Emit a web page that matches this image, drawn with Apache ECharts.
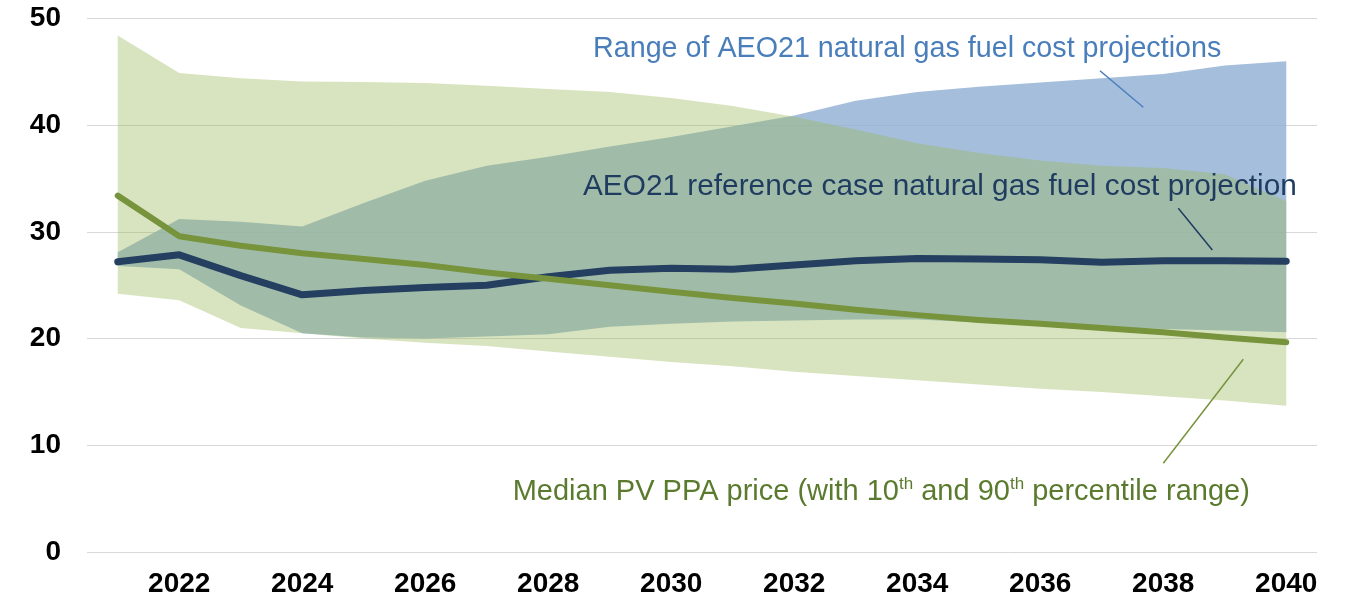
<!DOCTYPE html>
<html lang="en">

<head>
    <meta charset="UTF-8">
    <title>PV PPA vs gas fuel cost</title>
    <script src="https://cdn.jsdelivr.net/npm/echarts@6/dist/echarts.min.js"></script>
    <style>
        html, body {
            margin: 0;
            padding: 0;
            background: #fff;
        }

        #chart {
            width: 1345px;
            height: 598px;
        }
    </style>
</head>

<body>
    <div id="chart"></div>
    <script>
        // years on the x axis
        var years = ['2021', '2022', '2023', '2024', '2025', '2026', '2027', '2028', '2029', '2030',
            '2031', '2032', '2033', '2034', '2035', '2036', '2037', '2038', '2039', '2040'];

        // AEO21 natural gas fuel cost range (low / high)
        var gasLow = [26.8, 26.5, 23.1, 20.5, 20.1, 20.0, 20.2, 20.4, 21.1, 21.4,
            21.6, 21.7, 21.8, 21.8, 21.5, 21.3, 21.1, 20.9, 20.75, 20.6];
        var gasHigh = [28.1, 31.2, 30.95, 30.5, 32.7, 34.8, 36.2, 37.05, 38.0, 38.9,
            39.9, 40.9, 42.3, 43.1, 43.6, 44.0, 44.4, 44.8, 45.6, 46.0];

        // AEO21 reference case
        var gasRef = [27.2, 27.85, 25.9, 24.1, 24.5, 24.8, 25.0, 25.8, 26.4, 26.6,
            26.5, 26.9, 27.3, 27.5, 27.45, 27.4, 27.15, 27.3, 27.3, 27.25];

        // PV PPA price: 10th / 90th percentile and median
        var pvP10 = [24.2, 23.6, 21.0, 20.5, 20.0, 19.6, 19.3, 18.8, 18.3, 17.8,
            17.4, 16.9, 16.5, 16.1, 15.7, 15.3, 15.0, 14.6, 14.2, 13.7];
        var pvP90 = [48.4, 44.9, 44.4, 44.1, 44.05, 43.95, 43.7, 43.4, 43.1, 42.55,
            41.8, 40.8, 39.6, 38.3, 37.4, 36.7, 36.2, 36.0, 35.4, 32.9];
        var pvMedian = [33.4, 29.6, 28.7, 28.0, 27.45, 26.9, 26.2, 25.6, 25.0, 24.4,
            23.8, 23.3, 22.7, 22.2, 21.75, 21.4, 21.0, 20.6, 20.1, 19.65];

        var yTicks = { min: 0, max: 50, step: 10 };

        // band heights for the stacked areas
        var gasSpan = gasHigh.map(function (v, i) { return +(v - gasLow[i]).toFixed(2); });
        var pvSpan = pvP90.map(function (v, i) { return +(v - pvP10[i]).toFixed(2); });

        var chart = echarts.init(document.getElementById('chart'));
        var font = '"Liberation Sans", Arial, sans-serif';

        var hidden = {
            type: 'line',
            symbol: 'none',
            lineStyle: { opacity: 0 },
            silent: true
        };

        var option = {
            animation: false,
            grid: { left: 87, right: 28, top: 18.5, bottom: 43.5, containLabel: false },
            xAxis: {
                type: 'category',
                data: years,
                boundaryGap: true,
                axisLine: { show: false },
                axisTick: { show: false },
                axisLabel: {
                    interval: function (i) { return i % 2 === 1; },
                    margin: 18,
                    color: '#000',
                    fontFamily: font,
                    fontWeight: 'bold',
                    fontSize: 28
                }
            },
            yAxis: {
                type: 'value',
                min: yTicks.min,
                max: yTicks.max,
                interval: yTicks.step,
                axisLine: { show: false },
                axisTick: { show: false },
                axisLabel: {
                    margin: 26,
                    color: '#000',
                    fontFamily: font,
                    fontWeight: 'bold',
                    fontSize: 28
                },
                splitLine: { lineStyle: { color: '#d9d9d9', width: 1 } }
            },
            series: [
                Object.assign({ name: 'gasBase', stack: 'gas', data: gasLow }, hidden),
                {
                    name: 'Range of AEO21 natural gas fuel cost projections',
                    type: 'line',
                    stack: 'gas',
                    data: gasSpan,
                    symbol: 'none',
                    lineStyle: { width: 0 },
                    areaStyle: { color: 'rgba(142,174,211,0.8)', opacity: 1 }
                },
                Object.assign({ name: 'pvBase', stack: 'pv', data: pvP10 }, hidden),
                {
                    name: 'PV PPA 10th-90th percentile',
                    type: 'line',
                    stack: 'pv',
                    data: pvSpan,
                    symbol: 'none',
                    lineStyle: { width: 0 },
                    areaStyle: { color: 'rgba(152,184,87,0.38)', opacity: 1 }
                },
                {
                    name: 'AEO21 reference case',
                    type: 'line',
                    data: gasRef,
                    symbol: 'none',
                    lineStyle: { color: '#243f60', width: 7, cap: 'round', join: 'round' }
                },
                {
                    name: 'Median PV PPA price',
                    type: 'line',
                    data: pvMedian,
                    symbol: 'none',
                    lineStyle: { color: '#77933c', width: 6, cap: 'round', join: 'round' }
                }
            ],
            graphic: [
                {
                    type: 'text', z: 100,
                    style: {
                        x: 593, y: 49.5, verticalAlign: 'middle',
                        text: 'Range of AEO21 natural gas fuel cost projections',
                        font: '28.7px ' + font, fill: '#4a7ebb'
                    }
                },
                {
                    type: 'line', z: 100,
                    shape: { x1: 1100, y1: 70.7, x2: 1143.3, y2: 107.3 },
                    style: { stroke: '#4a7ebb', lineWidth: 1.5 }
                },
                {
                    type: 'text', z: 100,
                    style: {
                        x: 583, y: 187, verticalAlign: 'middle',
                        text: 'AEO21 reference case natural gas fuel cost projection',
                        font: '29.8px ' + font, fill: '#1f3b5f'
                    }
                },
                {
                    type: 'line', z: 100,
                    shape: { x1: 1178.3, y1: 208.3, x2: 1212.3, y2: 250 },
                    style: { stroke: '#1f3b5f', lineWidth: 1.5 }
                },
                {
                    type: 'text', z: 100,
                    style: {
                        x: 512.7, y: 492, verticalAlign: 'middle',
                        text: '{a|Median PV PPA price (with 10}{s|th}{a| and 90}{s|th}{a| percentile range)}',
                        rich: {
                            a: { fontSize: 29, fontFamily: font, fill: '#5a7a2e', lineHeight: 32 },
                            s: { fontSize: 17, fontFamily: font, fill: '#5a7a2e', lineHeight: 32, verticalAlign: 'top' }
                        }
                    }
                },
                {
                    type: 'line', z: 100,
                    shape: { x1: 1243.3, y1: 359.3, x2: 1163.3, y2: 463.3 },
                    style: { stroke: '#77933c', lineWidth: 1.5 }
                }
            ]
        };
        chart.setOption(option);
    </script>
</body>

</html>
